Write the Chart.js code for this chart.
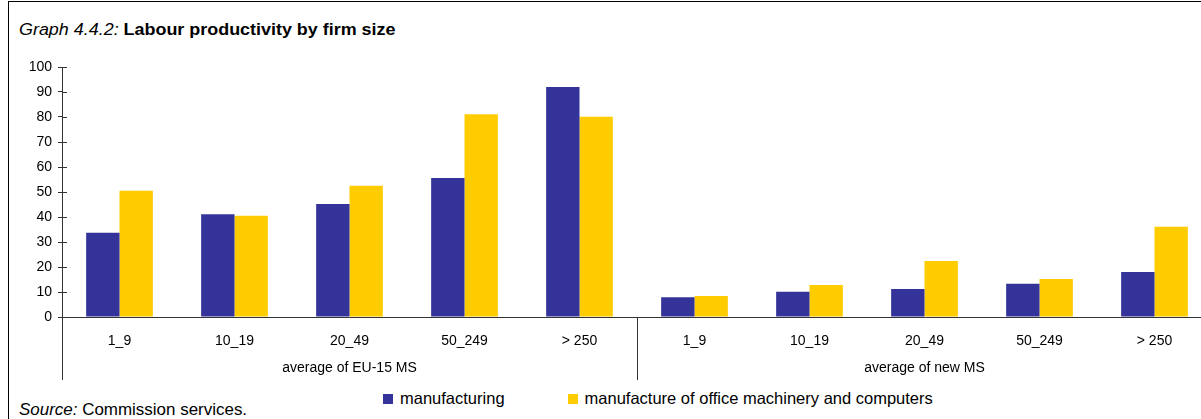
<!DOCTYPE html>
<html>
<head>
<meta charset="utf-8">
<script src="https://cdn.jsdelivr.net/npm/chart.js@4.4.1/dist/chart.umd.min.js"></script>
<style>
  html, body { margin: 0; padding: 0; background: #fff; overflow: hidden; }
  body { width: 1201px; height: 419px; position: relative; font-family: "Liberation Sans", Arial, sans-serif; color: #000; }
  .frame { position: absolute; left: 8px; top: 1px; right: -10px; bottom: -10px; border-left: 1px solid #000; border-top: 1px solid #000; }
  .title { position: absolute; left: 19px; top: 21px; font-size: 16px; white-space: nowrap; transform: scaleX(1.12); transform-origin: left center; }
  .title b { font-weight: bold; }
  #chartBox { position: absolute; left: 0; top: 50px; }
  .legend { position: absolute; left: 383px; top: 389px; font-size: 16.5px; white-space: nowrap; }
  .legend span.sw { display: inline-block; width: 10px; height: 10px; margin-right: 7px; vertical-align: 0px; }
  .legend .item { display: inline-block; }
  .legend .item + .item { margin-left: 63px; }
  .source { position: absolute; left: 19px; top: 401px; font-size: 16px; white-space: nowrap; transform: scaleX(1.06); transform-origin: left center; }
</style>
</head>
<body>
<div class="frame"></div>
<div class="title"><i>Graph 4.4.2:</i> <b>Labour productivity by firm size</b></div>
<div id="chartBox"><canvas id="prodChart" width="1212" height="330"></canvas></div>
<div class="legend">
  <span class="item"><span class="sw" style="background:#333399"></span>manufacturing</span><span class="item"><span class="sw" style="background:#FFCC00"></span>manufacture of office machinery and computers</span>
</div>
<div class="source"><i>Source:</i> Commission services.</div>

<script>
// ─── DATA ──────────────────────────────────────────────────
const categories = ['1_9', '10_19', '20_49', '50_249', '> 250', '1_9', '10_19', '20_49', '50_249', '> 250'];
const groups = ['average of EU-15 MS', 'average of new MS'];
const groupSize = 5;
const manufacturing = [33.7, 41.1, 45.2, 55.6, 92.0, 7.9, 10.1, 11.2, 13.3, 18.0];
const officeMachinery = [50.5, 40.5, 52.5, 81.1, 80.1, 8.4, 12.8, 22.4, 15.2, 36.1];
const yMin = 0, yMax = 100, yStep = 10;

const BLUE = '#333399';
const YELLOW = '#FFCC00';
const AXIS = '#333';

// ─── EXTRA AXIS LINES (crossing ticks, group separators) ───
const axisExtras = {
  id: 'axisExtras',
  afterDraw(chart) {
    const { ctx, chartArea, scales } = chart;
    const x = scales.x, y = scales.y, x2 = scales.x2;
    ctx.save();
    ctx.strokeStyle = AXIS;
    ctx.lineWidth = 1;
    ctx.beginPath();
    // inner half of the y ticks
    y.ticks.forEach(t => {
      const py = Math.round(y.getPixelForValue(t.value)) + 0.5;
      ctx.moveTo(chartArea.left, py);
      ctx.lineTo(chartArea.left + 5, py);
    });
    // y axis continues down through the category labels
    const lx = Math.round(chartArea.left) + 0.5;
    ctx.moveTo(lx, chartArea.bottom);
    ctx.lineTo(lx, x2.bottom);
    // separator between the two groups
    for (let g = 1; g < groups.length; g++) {
      const i = g * groupSize;
      const sx = Math.round((x.getPixelForValue(i - 1) + x.getPixelForValue(i)) / 2) + 0.5;
      ctx.moveTo(sx, chartArea.bottom);
      ctx.lineTo(sx, x2.bottom);
    }
    ctx.stroke();
    ctx.restore();
  }
};

const FONT = { family: '"Liberation Sans", Arial, sans-serif', size: 14 };

const ctx = document.getElementById('prodChart').getContext('2d');
new Chart(ctx, {
  type: 'bar',
  data: {
    labels: categories,
    datasets: [
      { label: 'manufacturing', data: manufacturing, backgroundColor: BLUE },
      { label: 'manufacture of office machinery and computers', data: officeMachinery, backgroundColor: YELLOW }
    ]
  },
  options: {
    responsive: false,
    animation: false,
    devicePixelRatio: 1,
    categoryPercentage: 0.58,
    barPercentage: 1.0,
    layout: { padding: { top: 17, right: 0, bottom: 0, left: 0 } },
    plugins: {
      legend: { display: false },
      tooltip: { enabled: false }
    },
    scales: {
      y: {
        min: yMin,
        max: yMax,
        ticks: { stepSize: yStep, color: '#000', font: FONT, padding: 6 },
        grid: { drawOnChartArea: false, tickLength: 4, color: AXIS },
        border: { display: true, color: AXIS, width: 1 },
        afterFit: s => { s.width = 62; }
      },
      x: {
        weight: 0,
        ticks: { color: '#000', font: FONT, padding: 8, maxRotation: 0, autoSkip: false },
        grid: { display: false },
        border: { display: true, color: AXIS, width: 1 },
        afterFit: s => { s.height = 33; }
      },
      x2: {
        type: 'category',
        labels: groups,
        position: 'bottom',
        weight: 1,
        ticks: { color: '#000', font: FONT, padding: 2, maxRotation: 0, autoSkip: false },
        grid: { display: false },
        border: { display: false },
        afterFit: s => { s.height = 30; }
      }
    }
  },
  plugins: [axisExtras]
});
</script>
</body>
</html>
